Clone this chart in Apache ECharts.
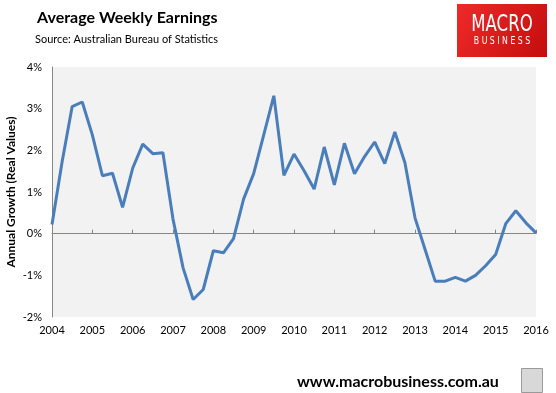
<!DOCTYPE html>
<html>
<head>
<meta charset="utf-8">
<script src="https://cdn.jsdelivr.net/npm/echarts@6/dist/echarts.min.js"></script>
<style>html,body{margin:0;padding:0;background:#fff;}#c{width:556px;height:393px;}</style>
</head>
<body>
<div id="c"></div>
<script>
// Quarterly categories 2004Q1 .. 2016Q1
const quarters = [
 "2004Q1","2004Q2","2004Q3","2004Q4","2005Q1","2005Q2","2005Q3","2005Q4",
 "2006Q1","2006Q2","2006Q3","2006Q4","2007Q1","2007Q2","2007Q3","2007Q4",
 "2008Q1","2008Q2","2008Q3","2008Q4","2009Q1","2009Q2","2009Q3","2009Q4",
 "2010Q1","2010Q2","2010Q3","2010Q4","2011Q1","2011Q2","2011Q3","2011Q4",
 "2012Q1","2012Q2","2012Q3","2012Q4","2013Q1","2013Q2","2013Q3","2013Q4",
 "2014Q1","2014Q2","2014Q3","2014Q4","2015Q1","2015Q2","2015Q3","2015Q4",
 "2016Q1"
];
// Annual growth in real average weekly earnings (%)
const growth = [
 0.22, 1.72, 3.05, 3.16, 2.37, 1.39, 1.45, 0.63,
 1.57, 2.15, 1.92, 1.94, 0.35, -0.82, -1.58, -1.34,
 -0.41, -0.46, -0.12, 0.83, 1.44, 2.37, 3.31, 1.40,
 1.91, 1.51, 1.07, 2.08, 1.17, 2.17, 1.44, 1.85,
 2.20, 1.68, 2.44, 1.70, 0.38, -0.38, -1.14, -1.14,
 -1.05, -1.14, -1.00, -0.77, -0.50, 0.24, 0.55, 0.26,
 0.02
];
const yTicks = { min: -2, max: 4, step: 1 };
const titleText = "Average Weekly Earnings";
const sourceText = "Source: Australian Bureau of Statistics";
const yName = "Annual Growth (Real Values)";
const footerText = "www.macrobusiness.com.au";

const font = "Lato, 'Open Sans', sans-serif";
const chart = echarts.init(document.getElementById('c'), null, {renderer: 'canvas'});
chart.setOption({
  animation: false,
  backgroundColor: '#ffffff',
  grid: { left: 52, right: 20, top: 67, bottom: 76, show: true, backgroundColor: '#f2f2f2', borderWidth: 0,
          containLabel: false, outerBoundsMode: 'none' },
  xAxis: [
    {
      type: 'category', data: quarters, boundaryGap: false,
      axisLine: { onZero: true, lineStyle: { color: '#868686', width: 1 } },
      axisTick: { inside: true, interval: 3, length: 4, lineStyle: { color: '#868686' } },
      axisLabel: { show: false },
      splitLine: { show: false }
    },
    {
      type: 'category', data: quarters, boundaryGap: false, position: 'bottom',
      axisLine: { show: false, onZero: false },
      axisTick: { show: false },
      axisLabel: { interval: 3, margin: 8, color: '#000', fontFamily: font, fontSize: 11,
        formatter: v => v.slice(0, 4) },
      splitLine: { show: false }
    }
  ],
  yAxis: {
    type: 'value', min: yTicks.min, max: yTicks.max, interval: yTicks.step,
    name: yName, nameLocation: 'middle', nameGap: 35, nameRotate: 90, nameMoveOverlap: false,
    nameTextStyle: { fontFamily: font, fontWeight: 'bold', fontSize: 12, color: '#000' },
    axisLine: { show: true, lineStyle: { color: '#868686' } },
    axisTick: { show: false },
    splitLine: { show: false },
    axisLabel: { formatter: '{value}%', margin: 10, color: '#000', fontFamily: font, fontSize: 11 }
  },
  series: [{
    type: 'line', data: growth, xAxisIndex: 0, symbol: 'none', smooth: false,
    lineStyle: { color: '#4a7ebb', width: 3 }
  }],
  graphic: [
    { type: 'text', left: 37, top: 10, style: { text: titleText, font: "bold 16px " + font, fill: '#000' } },
    { type: 'text', left: 35, top: 34, style: { text: sourceText, font: "11px " + font, fill: '#000' } },
    { type: 'rect', left: 457, top: 4, shape: { width: 90, height: 53 },
      style: { fill: new echarts.graphic.LinearGradient(0, 0, 1, 1, [
        { offset: 0, color: '#ee2a2a' }, { offset: 1, color: '#c40d0d' } ]) } },
    { type: 'text', x: 502, y: 25, scaleX: 0.72,
      style: { text: 'MACRO', font: "23px 'DejaVu Sans', sans-serif", fill: '#fff', align: 'center', verticalAlign: 'middle' } },
    { type: 'text', x: 502, y: 41.5, scaleX: 0.78,
      style: { text: 'B U S I N E S S', font: "10px 'DejaVu Sans', sans-serif", fill: '#fff', align: 'center', verticalAlign: 'middle' } },
    { type: 'text', left: 297, top: 374, style: { text: footerText, font: "bold 16px " + font, fill: '#000' } },
    { type: 'rect', left: 521, top: 368, shape: { width: 21, height: 24 },
      style: { fill: '#d8d8d8', stroke: '#9a9a9a', lineWidth: 1 } }
  ]
});
</script>
</body>
</html>
